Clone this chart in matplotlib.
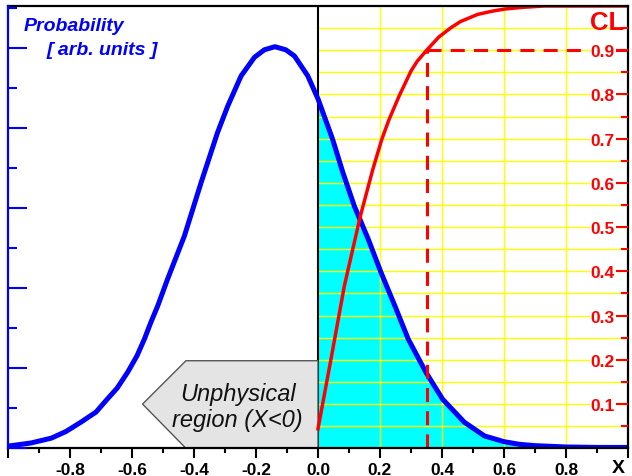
import numpy as np
import matplotlib
matplotlib.use('Agg')
import matplotlib.pyplot as plt
from matplotlib.patches import Polygon
from matplotlib.ticker import FixedLocator, FixedFormatter, MultipleLocator

plt.rcParams['font.family'] = ['Liberation Sans', 'DejaVu Sans']
plt.rcParams['axes.unicode_minus'] = False

# probability density (arb. units, drawn on the CL scale)
prob_x = [-1.0, -0.926, -0.86, -0.813, -0.765, -0.716, -0.68, -0.648, -0.614,
          -0.584, -0.56, -0.539, -0.517, -0.485, -0.431, -0.377, -0.324,
          -0.291, -0.248, -0.205, -0.173, -0.139, -0.104, -0.076, -0.033,
          0.0, 0.047, 0.08, 0.117, 0.162, 0.203, 0.248, 0.291, 0.348, 0.402,
          0.472, 0.537, 0.6, 0.65, 0.7, 0.8, 0.9, 1.0]
prob_y = [0.005, 0.012, 0.023, 0.038, 0.059, 0.082, 0.111, 0.136, 0.172,
          0.209, 0.247, 0.285, 0.322, 0.383, 0.48, 0.601, 0.714,
          0.774, 0.842, 0.884, 0.901, 0.908, 0.901, 0.887, 0.842,
          0.79, 0.699, 0.624, 0.548, 0.473, 0.398, 0.322, 0.247, 0.172, 0.111,
          0.059, 0.028, 0.015, 0.009, 0.006, 0.003, 0.002, 0.002]

# confidence level curve
cl_x = [0.0, 0.042, 0.085, 0.137, 0.177, 0.206, 0.229, 0.262, 0.30, 0.32,
        0.348, 0.39, 0.429, 0.46, 0.515, 0.56, 0.601, 0.66, 0.73, 1.0]
cl_y = [0.044, 0.202, 0.367, 0.526, 0.631, 0.699, 0.743, 0.797, 0.853, 0.875,
        0.898, 0.93, 0.951, 0.965, 0.981, 0.988, 0.993, 0.997, 1.0, 1.0]

cl_level = 0.9
x_limit = 0.35

x_ticks = [-1.0, -0.8, -0.6, -0.4, -0.2, 0.0, 0.2, 0.4, 0.6, 0.8, 1.0]
x_labels = ['', '-0.8', '-0.6', '-0.4', '-0.2', '0.0', '0.2', '0.4', '0.6', '0.8', '']
cl_ticks = [0.1, 0.2, 0.3, 0.4, 0.5, 0.6, 0.7, 0.8, 0.9]
cl_labels = ['0.1', '0.2', '0.3', '0.4', '0.5', '0.6', '0.7', '0.8', '0.9']

fig = plt.figure(figsize=(6.32, 4.77), dpi=100)
ax = fig.add_axes([8 / 632, 27.7 / 477, 620 / 632, 442.3 / 477])
axl = ax.twinx()   # left probability axis (twinx moves ax ticks, so make it first)
ax.set_xlim(-1.0, 1.0)
ax.set_ylim(0.0, 1.0)

# yellow grid only in the physical region
for gy in np.arange(0.05, 0.999, 0.05):
    ax.plot([0, 1], [gy, gy], color='#ffff00', lw=1.0, zorder=2)
for gx in [0.2, 0.4, 0.6, 0.8]:
    ax.plot([gx, gx], [0, 1], color='#ffff00', lw=1.0, zorder=2)

px = np.array(prob_x)
py = np.array(prob_y)
mask = px >= 0
ax.fill_between(px[mask], 0, py[mask], color='#00ffff', lw=0, zorder=1)

ax.plot([0, 0], [0, 1], color='black', lw=1.5, zorder=3)

# unphysical region marker
poly = Polygon([(-0.566, 0.1), (-0.426, 0.198), (0.0, 0.198), (0.0, 0.0), (-0.426, 0.0)],
               closed=True, facecolor='#e4e4e4', edgecolor='#555555', lw=1.0, zorder=3)
ax.add_patch(poly)
ax.text(-0.259, 0.123, 'Unphysical', ha='center', va='center', style='italic',
        fontsize=17, color='#111111', zorder=4)
ax.text(-0.259, 0.066, 'region (X<0)', ha='center', va='center', style='italic',
        fontsize=17, color='#111111', zorder=4)

ax.plot(prob_x, prob_y, color='#0000ff', lw=3.6, solid_capstyle='round',
        solid_joinstyle='round', zorder=5)
ax.plot([x_limit, x_limit], [0, cl_level], color='#ff0000', lw=2.2,
        dashes=(4.6, 3.0), zorder=5)
ax.plot([x_limit, 1.0], [cl_level, cl_level], color='#ff0000', lw=2.2,
        dashes=(4.6, 3.0), zorder=5)
ax.plot(cl_x, cl_y, color='#ff0000', lw=2.5, solid_joinstyle='round', zorder=6)

# frame
for side in ['top', 'right', 'bottom']:
    ax.spines[side].set_color('black')
    ax.spines[side].set_linewidth(1.6)
    ax.spines[side].set_zorder(7)
ax.spines['left'].set_visible(False)

ax.xaxis.set_major_locator(FixedLocator(x_ticks))
ax.xaxis.set_major_formatter(FixedFormatter(x_labels))
ax.xaxis.set_minor_locator(MultipleLocator(0.1))
ax.tick_params(axis='x', which='major', direction='out', length=7, width=1.5,
               color='black', pad=3, labelsize=12.5)
ax.tick_params(axis='x', which='minor', direction='out', length=3.5, width=1.5,
               color='black')
for lab in ax.get_xticklabels():
    lab.set_fontweight('bold')

ax.yaxis.set_ticks_position('right')
ax.yaxis.set_label_position('right')
ax.yaxis.set_zorder(8)
ax.yaxis.set_major_locator(FixedLocator(cl_ticks))
ax.yaxis.set_major_formatter(FixedFormatter(cl_labels))
ax.yaxis.set_minor_locator(FixedLocator(np.arange(0.05, 1.0, 0.1)))
ax.tick_params(axis='y', which='major', direction='in', length=9, width=1.5,
               color='#ff0000', labelcolor='#ff0000', pad=-9.6, labelsize=12.5,
               left=False, labelleft=False, right=True, labelright=True)
ax.tick_params(axis='y', which='minor', direction='in', length=5, width=1.5,
               color='#ff0000', left=False, right=True)
for lab in ax.get_yticklabels(which='both'):
    lab.set_fontweight('bold')
    lab.set_horizontalalignment('right')
    lab.set_bbox(dict(facecolor='white', edgecolor='none', pad=0.6))

axl.set_ylim(0, 5.52)
axl.yaxis.set_ticks_position('left')
axl.yaxis.set_major_locator(MultipleLocator(1.0))
axl.yaxis.set_minor_locator(MultipleLocator(0.5))
axl.tick_params(axis='y', which='major', direction='in', length=13.5, width=1.5,
                color='#0000ff', labelleft=False, labelright=False)
axl.tick_params(axis='y', which='minor', direction='in', length=6.5, width=1.5,
                color='#0000ff')
for side in ['top', 'right', 'bottom']:
    axl.spines[side].set_visible(False)
axl.spines['left'].set_color('#0000ff')
axl.spines['left'].set_linewidth(1.6)

ax.text(-0.948, 0.957, 'Probability', ha='left', va='center', color='#0000ff',
        fontsize=14, fontweight='bold', style='italic')
ax.text(-0.877, 0.902, '[ arb. units ]', ha='left', va='center', color='#0000ff',
        fontsize=14, fontweight='bold', style='italic')
ax.text(0.877, 0.963, 'CL', ha='left', va='center', color='#ff0000',
        fontsize=18.5, fontweight='bold', zorder=8)
ax.text(0.968, -0.043, 'X', ha='center', va='center', color='black',
        fontsize=14, fontweight='bold', clip_on=False)

fig.savefig('out.png', dpi=100)
